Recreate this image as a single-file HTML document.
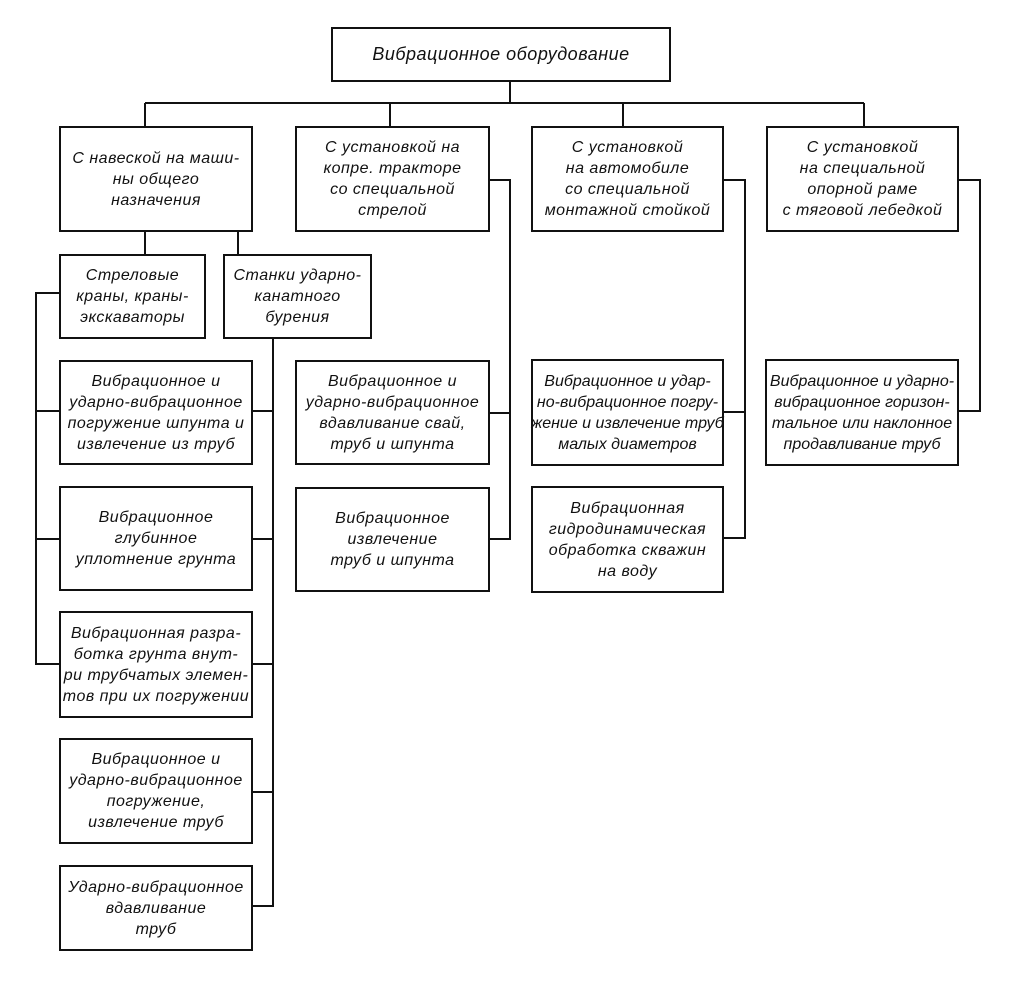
<!DOCTYPE html>
<html><head><meta charset="utf-8"><style>
body{margin:0;background:#fff;width:1024px;height:998px;position:relative;overflow:hidden}
.b{position:absolute;box-sizing:border-box;border:2.5px solid #111;display:flex;align-items:center;justify-content:center;text-align:center;font-family:"Liberation Sans","DejaVu Sans",sans-serif;font-style:italic;font-size:16px;line-height:21px;color:#111;letter-spacing:0.5px;white-space:nowrap}
svg{position:absolute;left:0;top:0}
</style></head><body>
<svg width="1024" height="998" stroke="#111" stroke-width="2" fill="none">
<path d="M510 81V103M145 103H864M145 103V126M390 103V126M623 103V126M864 103V126"/>
<path d="M145 231V254M238 231V254"/>
<path d="M59 293H36V664H59M36 411H59M36 539H59"/>
<path d="M273 338V906H252M252 411H273M252 539H273M252 664H273M252 792H273"/>
<path d="M489 180H510V539H489M489 413H510"/>
<path d="M723 180H745V538H723M723 412H745"/>
<path d="M958 180H980V411H958"/>
</svg>
<div class="b" style="left:331px;top:27px;width:340px;height:55px;font-size:18px">Вибрационное оборудование</div>
<div class="b" style="left:59px;top:126px;width:194px;height:106px">С навеской на маши-<br>ны общего<br>назначения</div>
<div class="b" style="left:295px;top:126px;width:195px;height:106px">С установкой на<br>копре. тракторе<br>со специальной<br>стрелой</div>
<div class="b" style="left:531px;top:126px;width:193px;height:106px">С установкой<br>на автомобиле<br>со специальной<br>монтажной стойкой</div>
<div class="b" style="left:766px;top:126px;width:193px;height:106px">С установкой<br>на специальной<br>опорной раме<br>с тяговой лебедкой</div>
<div class="b" style="left:59px;top:254px;width:147px;height:85px">Стреловые<br>краны, краны-<br>экскаваторы</div>
<div class="b" style="left:223px;top:254px;width:149px;height:85px">Станки ударно-<br>канатного<br>бурения</div>
<div class="b" style="left:59px;top:360px;width:194px;height:105px">Вибрационное и<br>ударно-вибрационное<br>погружение шпунта и<br>извлечение из труб</div>
<div class="b" style="left:59px;top:486px;width:194px;height:105px">Вибрационное<br>глубинное<br>уплотнение грунта</div>
<div class="b" style="left:59px;top:611px;width:194px;height:107px">Вибрационная разра-<br>ботка грунта внут-<br>ри трубчатых элемен-<br>тов при их погружении</div>
<div class="b" style="left:59px;top:738px;width:194px;height:106px">Вибрационное и<br>ударно-вибрационное<br>погружение,<br>извлечение труб</div>
<div class="b" style="left:59px;top:865px;width:194px;height:86px">Ударно-вибрационное<br>вдавливание<br>труб</div>
<div class="b" style="left:295px;top:360px;width:195px;height:105px">Вибрационное и<br>ударно-вибрационное<br>вдавливание свай,<br>труб и шпунта</div>
<div class="b" style="left:295px;top:487px;width:195px;height:105px">Вибрационное<br>извлечение<br>труб и шпунта</div>
<div class="b" style="left:531px;top:359px;width:193px;height:107px;letter-spacing:0">Вибрационное и удар-<br>но-вибрационное погру-<br>жение и извлечение труб<br>малых диаметров</div>
<div class="b" style="left:531px;top:486px;width:193px;height:107px">Вибрационная<br>гидродинамическая<br>обработка скважин<br>на воду</div>
<div class="b" style="left:765px;top:359px;width:194px;height:107px;letter-spacing:0">Вибрационное и ударно-<br>вибрационное горизон-<br>тальное или наклонное<br>продавливание труб</div>
</body></html>
